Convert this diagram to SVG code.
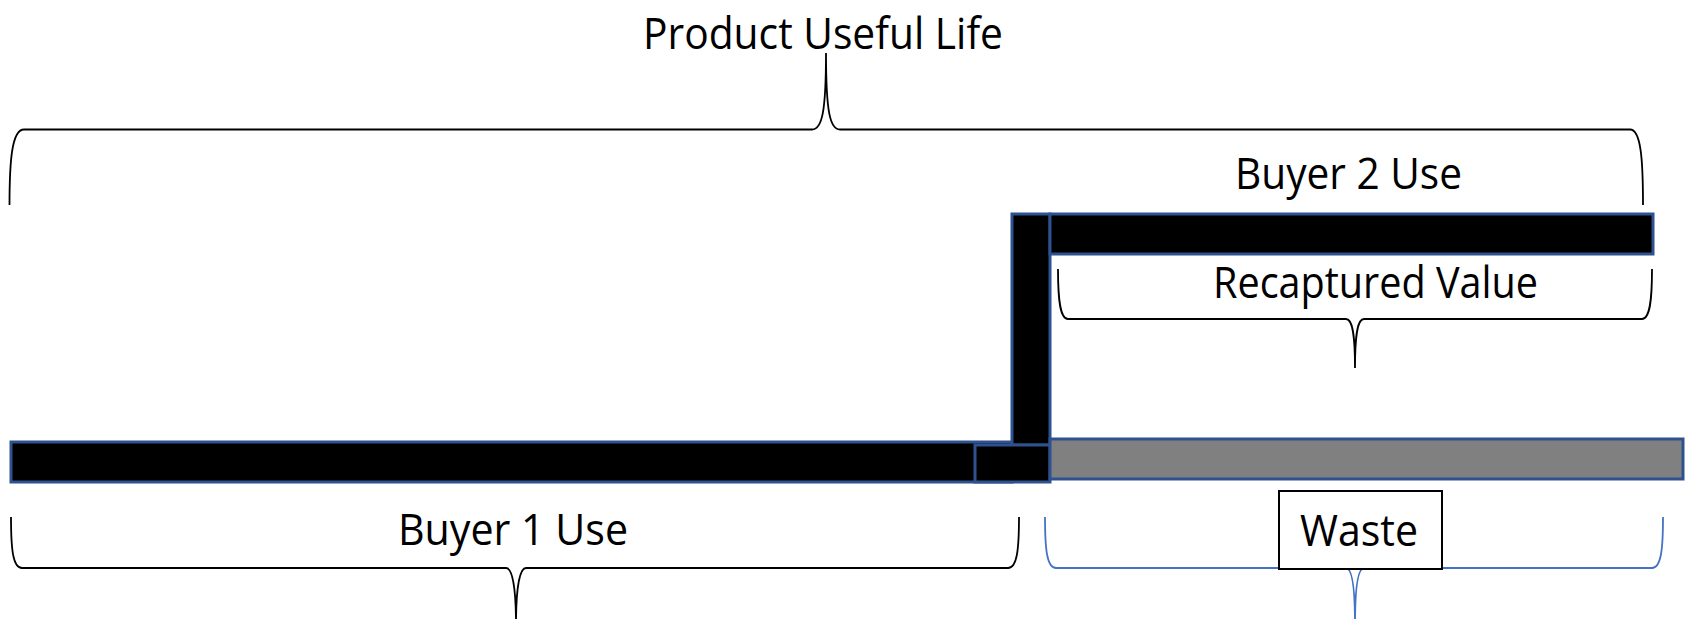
<svg xmlns="http://www.w3.org/2000/svg" width="1689" height="619" viewBox="0 0 1689 619">
<style>
.t{font-family:"Open Sans","Liberation Sans",sans-serif;font-size:44px;fill:#000}
.br{fill:none;stroke:#000;stroke-width:1.8}
.brb{fill:none;stroke:#4472C4;stroke-width:1.8}
.bar{fill:#000;stroke:#2F528F;stroke-width:3}
.gray{fill:#808080;stroke:#2F528F;stroke-width:3}
</style>
<rect width="1689" height="619" fill="#fff"/>
<g id="connectors">
<path id="brace-top" class="br" d="M9.5,205 C9.5,160 12,129.5 24,129.5 L812,129.5 C822,129.5 826,112 826,53 C826,112 830,129.5 840,129.5 L1630,129.5 C1641,129.5 1643,160 1643,205"/>
<path id="brace-recaptured" class="br" d="M1058,269 C1058,300 1060,319 1068,319 L1346,319 C1352,319 1355,332 1355,368 C1355,332 1358,319 1364,319 L1642,319 C1650,319 1652,300 1652,269"/>
<path id="brace-buyer1" class="br" d="M11,517 C11,550 13,568 22,568 L506,568 C512,568 516,585 516,625 C516,585 520,568 526,568 L1008,568 C1017,568 1019,550 1019,517"/>
<path id="brace-waste" class="brb" d="M1045,517 C1045,550 1047,568 1056,568 L1346,568 C1352,568 1355,585 1355,625 C1355,585 1358,568 1364,568 L1652,568 C1661,568 1663,550 1663,517"/>
</g>
<g id="buyer1-bar"><rect class="bar" x="11" y="442" width="1001" height="40"/></g>
<g id="transfer-bar"><rect class="bar" x="1012" y="214" width="38" height="231"/><rect class="bar" x="975" y="445" width="75" height="37"/></g>
<g id="buyer2-bar"><rect class="bar" x="1050" y="214" width="603" height="40"/></g>
<g id="waste-bar"><rect class="gray" x="1050" y="439" width="633" height="40"/></g>
<g id="title"><text class="t" x="643" y="49" textLength="360" lengthAdjust="spacingAndGlyphs">Product Useful Life</text></g>
<g id="buyer2-label"><text class="t" x="1235" y="189" textLength="227" lengthAdjust="spacingAndGlyphs">Buyer 2 Use</text></g>
<g id="recaptured-label"><text class="t" x="1213" y="298" textLength="325" lengthAdjust="spacingAndGlyphs">Recaptured Value</text></g>
<g id="buyer1-label"><text class="t" x="398" y="545" textLength="230" lengthAdjust="spacingAndGlyphs">Buyer 1 Use</text></g>
<g id="waste-label"><rect x="1279" y="491" width="163" height="78" fill="#fff" stroke="#000" stroke-width="2"/><text class="t" x="1300" y="546" textLength="118" lengthAdjust="spacingAndGlyphs">Waste</text></g>
</svg>
